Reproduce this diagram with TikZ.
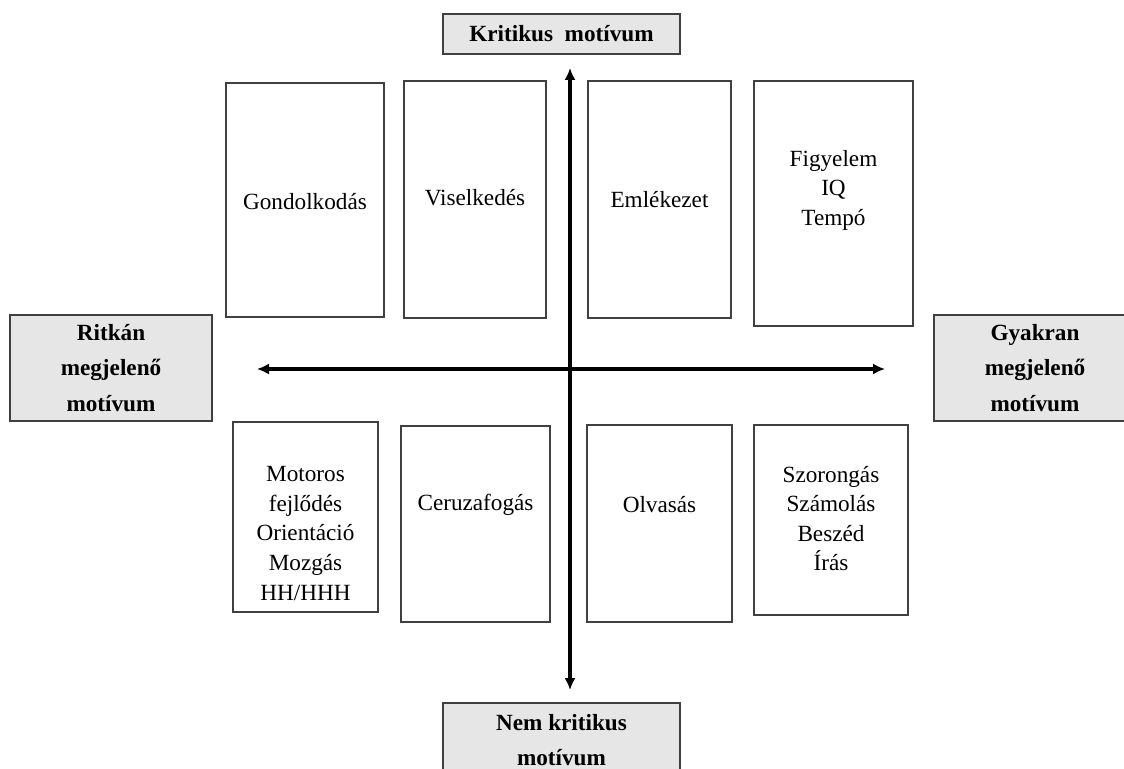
\documentclass[tikz,border=0pt]{standalone}
\usepackage{fontspec}
\setmainfont{Liberation Serif}
\usepackage{tikz}
\usetikzlibrary{arrows.meta, positioning, calc}
\definecolor{axisgray}{HTML}{E6E6E6}
\definecolor{boxline}{HTML}{404040}

\begin{document}
\begin{tikzpicture}[
    cell/.style={draw=boxline, line width=0.8pt, inner sep=0pt},
    celltext/.style={align=center, inner sep=0pt, font=\fontsize{16.5}{21}\selectfont},
    axislabel/.style={draw=boxline, line width=0.8pt, fill=axisgray, inner sep=0pt, align=center, font=\fontsize{16.5}{25}\selectfont\bfseries},
    axisarrow/.style={{Latex[length=3mm, width=2.8mm]}-{Latex[length=3mm, width=2.8mm]}, line width=2.2pt},
]
    \fill[white] (0,0) rectangle (28.1,-19.225);
    \useasboundingbox (0,0) rectangle (28.1,-19.225);

    % Axis labels
    \node[axislabel, minimum width=5.925cm, minimum height=1.0cm] (krit) at (14.0375,-0.85) {Kritikus\ \ motívum};
    \node[axislabel, minimum width=5.925cm, minimum height=1.875cm] (nemkrit) at (14.0375,-18.5125) {Nem kritikus\\motívum};
    \node[axislabel, minimum width=5.05cm, minimum height=2.65cm] (ritkan) at (2.775,-9.2) {Ritkán\\megjelenő\\motívum};
    \node[axislabel, minimum width=5.05cm, minimum height=2.65cm] (gyakran) at (25.875,-9.2) {Gyakran\\megjelenő\\motívum};

    % Upper row
    \node[cell, minimum width=3.95cm, minimum height=5.85cm] (gond) at (7.625,-5.0) {};
    \node[cell, minimum width=3.55cm, minimum height=5.925cm] (visel) at (11.875,-4.9875) {};
    \node[cell, minimum width=3.575cm, minimum height=5.925cm] (emlek) at (16.4875,-4.9875) {};
    \node[cell, minimum width=3.975cm, minimum height=6.125cm] (figy) at (20.8375,-5.0875) {};

    % Lower row
    \node[cell, minimum width=3.625cm, minimum height=4.75cm] (motor) at (7.6375,-12.925) {};
    \node[cell, minimum width=3.725cm, minimum height=4.9cm] (ceruza) at (11.8875,-13.1) {};
    \node[cell, minimum width=3.625cm, minimum height=4.925cm] (olvas) at (16.4875,-13.0875) {};
    \node[cell, minimum width=3.85cm, minimum height=4.75cm] (szor) at (20.775,-13.0) {};

    % Box texts
    \node[celltext] (gondtxt) at (7.625,-5.05) {Gondolkodás};
    \node[celltext] (viseltxt) at (11.875,-4.95) {Viselkedés};
    \node[celltext] (emlektxt) at (16.4875,-5.0) {Emlékezet};
    \node[celltext] (figytxt) at (20.8375,-4.75) {Figyelem\\IQ\\Tempó};
    \node[celltext] (motortxt) at (7.6375,-13.3375) {Motoros\\fejlődés\\Orientáció\\Mozgás\\HH/HHH};
    \node[celltext] (ceruzatxt) at (11.8875,-12.625) {Ceruzafogás};
    \node[celltext] (olvastxt) at (16.4875,-12.625) {Olvasás};
    \node[celltext] (szortxt) at (20.775,-12.9625) {Szorongás\\Számolás\\Beszéd\\Írás};

    % Axes
    \coordinate (vtop) at (14.25,-1.7);
    \coordinate (vbot) at (14.25,-17.25);
    \coordinate (hleft) at (6.425,-9.225);
    \coordinate (hright) at (22.125,-9.225);
    \draw[axisarrow] (vbot) -- (vtop);
    \draw[axisarrow] (hleft) -- (hright);

\end{tikzpicture}
\end{document}
